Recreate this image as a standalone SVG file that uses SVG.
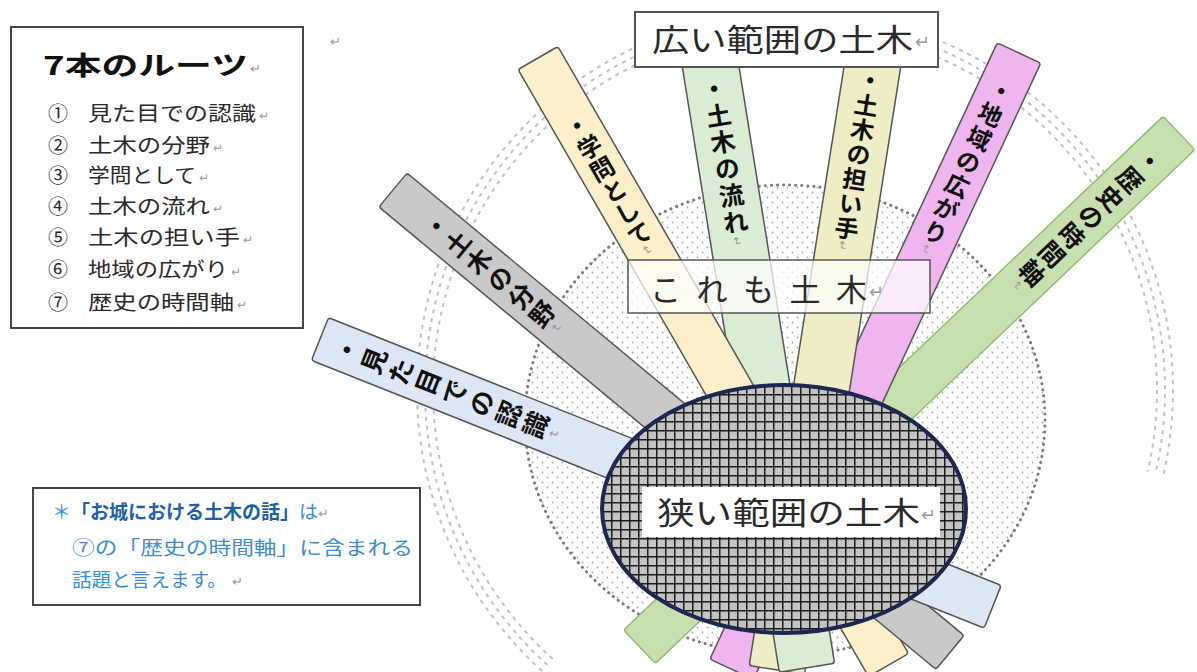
<svg xmlns="http://www.w3.org/2000/svg" width="1197" height="672" viewBox="0 0 1197 672">
<style>
text { font-family: 'Noto Sans CJK JP', 'Noto Sans', sans-serif; }
.vt { writing-mode: vertical-rl; font-weight: 700; fill: #111; }
.ret { fill: #9a9a9a; font-weight: 400; }
.bar { stroke: #555; stroke-width: 1.5; }
.box { fill: #fff; stroke: #555; stroke-width: 2; }
.big { font-size: 31px; fill: #2a2a2a; }
.leg { font-size: 20px; fill: #2a2a2a; }
.note { font-size: 19px; fill: #3b8ed6; }
.ring { fill: none; stroke: #c2c2c2; stroke-width: 2; stroke-dasharray: 4 5; }
</style>
<defs>
<pattern id="grid" patternUnits="userSpaceOnUse" x="602" y="385" width="9" height="9">
<rect width="9" height="9" fill="#c3c3c3"/>
<path d="M0 0.75H9M0.75 0V9" stroke="#1b1b1b" stroke-width="1.5"/>
</pattern>
<pattern id="dots" patternUnits="userSpaceOnUse" width="10" height="10">
<circle cx="2.5" cy="2.5" r="0.9" fill="#a8a8a8"/>
<circle cx="7.5" cy="7.5" r="0.9" fill="#a8a8a8"/>
</pattern>
</defs>
<rect width="1197" height="672" fill="#fff"/>

<g id="outer-ring">
<path class="ring" d="M552.8 659 A362 362 0 1 1 1147.7 471.5"/>
<path class="ring" d="M547.4 664.9 A370 370 0 1 1 1155.5 473.3"/>
<path class="ring" d="M542.1 670.9 A378 378 0 1 1 1163.3 475.1"/>
</g>

<g id="dotted-disk">
<ellipse cx="785" cy="420" rx="260" ry="235" fill="url(#dots)" stroke="#7a7a7a" stroke-width="3" stroke-dasharray="0.1 6" stroke-linecap="round"/>
</g>

<g id="bar-rekishi" transform="translate(1179 133) rotate(136.4)">
<rect class="bar" x="0" y="-23" width="745" height="46" rx="3" fill="#c8e0b0" style="stroke:#8fbf70"/>
<text class="vt" transform="rotate(-90)" x="0" y="28" font-size="25" letter-spacing="2">・歴史の時間軸<tspan class="ret" font-size="12">↵</tspan></text>
</g>
<g id="bar-chiiki" transform="translate(1019 53) rotate(115)">
<rect class="bar" x="0" y="-24" width="680" height="48" rx="3" fill="#efb5ef"/>
<text class="vt" transform="rotate(-90)" x="0" y="30" font-size="24" letter-spacing="2">・地域の広がり<tspan class="ret" font-size="12">↵</tspan></text>
</g>
<g id="bar-ninaite" transform="translate(879 25) rotate(99)">
<rect class="bar" x="0" y="-28" width="653" height="56" rx="3" fill="#eeedc6"/>
<text class="vt" transform="rotate(-90)" x="0" y="44" font-size="24" letter-spacing="1">・土木の担い手<tspan class="ret" font-size="12">↵</tspan></text>
</g>
<g id="bar-nagare" transform="translate(704 25) rotate(80.9)">
<rect class="bar" x="0" y="-28" width="651" height="56" rx="3" fill="#dbecd5"/>
<text class="vt" transform="rotate(-90)" x="0" y="52" font-size="25" letter-spacing="2">・土木の流れ<tspan class="ret" font-size="12">↵</tspan></text>
</g>
<g id="bar-gakumon" transform="translate(538 58) rotate(60)">
<rect class="bar" x="0" y="-23" width="701" height="46" rx="3" fill="#fcefc9"/>
<text class="vt" transform="rotate(-90)" x="0" y="66" font-size="24" letter-spacing="1">・学問として<tspan class="ret" font-size="12">↵</tspan></text>
</g>
<g id="bar-bunya" transform="translate(393 190) rotate(39.7)">
<rect class="bar" x="0" y="-22" width="724" height="44" rx="3" fill="#c9c9c9"/>
<text class="vt" transform="rotate(-90)" x="0" y="44" font-size="25" letter-spacing="2.5">・土木の分野<tspan class="ret" font-size="12">↵</tspan></text>
</g>
<g id="bar-mitame" transform="translate(320 339) rotate(21.7)">
<rect class="bar" x="0" y="-23" width="724" height="46" rx="3" fill="#dce6f4"/>
<text class="vt" transform="rotate(-90)" x="0" y="16" font-size="26" letter-spacing="3">・見た目での認識<tspan class="ret" font-size="12">↵</tspan></text>
</g>

<g id="narrow-civil">
<ellipse cx="784" cy="509" rx="182" ry="124" fill="url(#grid)" stroke="#1c2850" stroke-width="4"/>
<rect x="642" y="487" width="298" height="50" fill="#fff"/>
<text class="big" x="657" y="524" textLength="263" lengthAdjust="spacingAndGlyphs">狭い範囲の土木</text>
<text class="ret" x="921" y="521" font-size="18">↵</text>
</g>

<g id="kore-mo-civil">
<rect x="628" y="260" width="302" height="53" fill="#fff" fill-opacity="0.72" stroke="#555" stroke-width="1.5"/>
<text class="big" x="650" y="301" font-size="33" textLength="217" lengthAdjust="spacing">これも土木</text>
<text class="ret" x="869" y="298" font-size="18">↵</text>
</g>

<g id="wide-civil">
<rect class="box" x="635" y="12" width="303" height="55"/>
<text class="big" x="652" y="51" textLength="261" lengthAdjust="spacingAndGlyphs">広い範囲の土木</text>
<text class="ret" x="915" y="48" font-size="18">↵</text>
</g>

<text class="ret" x="330" y="46" font-size="13">↵</text>

<g id="legend">
<rect class="box" x="11" y="27" width="292" height="301" style="stroke:#444"/>
<text x="43" y="75" font-size="26" font-weight="700" fill="#111" textLength="205" lengthAdjust="spacingAndGlyphs">7本のルーツ</text>
<text class="ret" x="250" y="73" font-size="13">↵</text>
<text class="leg" x="48" y="121">①</text><text class="leg" x="88" y="121" textLength="168" lengthAdjust="spacingAndGlyphs">見た目での認識</text><text class="ret" x="259" y="120" font-size="12">↵</text>
<text class="leg" x="48" y="153">②</text><text class="leg" x="88" y="153" textLength="122" lengthAdjust="spacingAndGlyphs">土木の分野</text><text class="ret" x="213" y="152" font-size="12">↵</text>
<text class="leg" x="48" y="183">③</text><text class="leg" x="88" y="183" textLength="108" lengthAdjust="spacingAndGlyphs">学問として</text><text class="ret" x="199" y="182" font-size="12">↵</text>
<text class="leg" x="48" y="214">④</text><text class="leg" x="88" y="214" textLength="122" lengthAdjust="spacingAndGlyphs">土木の流れ</text><text class="ret" x="213" y="213" font-size="12">↵</text>
<text class="leg" x="48" y="245">⑤</text><text class="leg" x="88" y="245" textLength="152" lengthAdjust="spacingAndGlyphs">土木の担い手</text><text class="ret" x="243" y="244" font-size="12">↵</text>
<text class="leg" x="48" y="277">⑥</text><text class="leg" x="88" y="277" textLength="140" lengthAdjust="spacingAndGlyphs">地域の広がり</text><text class="ret" x="231" y="276" font-size="12">↵</text>
<text class="leg" x="48" y="310">⑦</text><text class="leg" x="88" y="310" textLength="146" lengthAdjust="spacingAndGlyphs">歴史の時間軸</text><text class="ret" x="237" y="309" font-size="12">↵</text>
</g>

<g id="note">
<rect class="box" x="33" y="488" width="387" height="117" style="stroke:#444"/>
<text class="note" x="52" y="519" font-size="18.5">＊<tspan font-weight="700" fill="#1f5fa8">「お城における土木の話」</tspan>は</text>
<text class="ret" x="318" y="518" font-size="13">↵</text>
<text class="note" x="72" y="555" textLength="341" lengthAdjust="spacingAndGlyphs">⑦の「歴史の時間軸」に含まれる</text>
<text class="note" x="72" y="587" textLength="155" lengthAdjust="spacingAndGlyphs">話題と言えます。</text>
<text class="ret" x="232" y="586" font-size="13">↵</text>
</g>
</svg>
